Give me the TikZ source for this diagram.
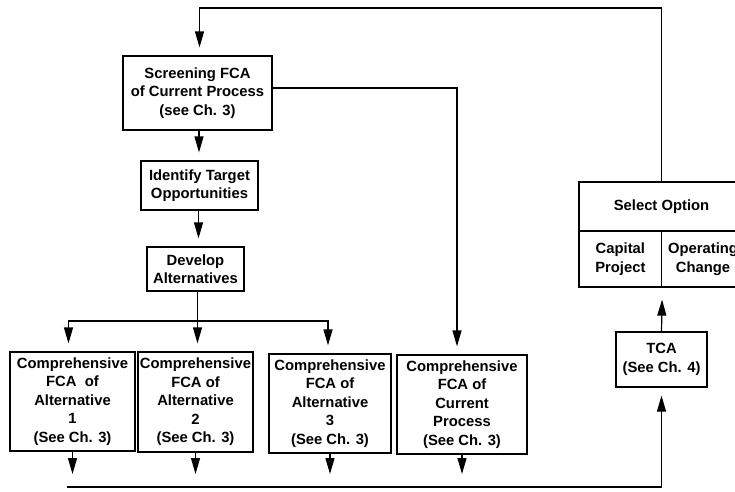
\documentclass[tikz,border=0pt]{standalone}
\usepackage{fontspec}
\setmainfont{Liberation Sans}
\usetikzlibrary{arrows.meta,positioning,calc}

\begin{document}
\begin{tikzpicture}[
  x=1pt, y=-1pt,
  box/.style={rectangle, draw, line width=1.2pt, align=center, inner sep=2pt,
    font=\fontsize{14.8}{18.5}\selectfont\bfseries},
  arr/.style={line width=1.2pt, -{Triangle[length=16pt,width=9pt]}, shorten >=8pt},
  wire/.style={line width=1.2pt}
]
  \useasboundingbox (0,0) rectangle (735,491);
  \clip (0,0) rectangle (735,491);
  % Screening and targets
  \node[box, minimum width=149pt, minimum height=74pt] (screen) at (197.5,93) {Screening FCA\\of Current Process\\(see Ch. 3)};
  \node[box, minimum width=117pt, minimum height=49pt] (identify) at (199.5,185.5) {Identify Target\\Opportunities};
  \node[box, minimum width=97pt, minimum height=44pt] (develop) at (195.5,269) {Develop\\Alternatives};
  % Comprehensive FCA row
  \node[box, minimum width=125pt, minimum height=99pt] (alt1) at (72.5,401.5) {Comprehensive\\FCA\ \ of\\Alternative\\1\\(See Ch. 3)};
  \node[box, minimum width=114pt, minimum height=100pt] (alt2) at (195.5,402) {Comprehensive\\FCA of\\Alternative\\2\\(See Ch. 3)};
  \node[box, minimum width=122pt, minimum height=99pt] (alt3) at (330,403.5) {Comprehensive\\FCA of\\Alternative\\3\\(See Ch. 3)};
  \node[box, minimum width=130pt, minimum height=99pt] (cur) at (462,404.5) {Comprehensive\\FCA of\\Current\\Process\\(See Ch. 3)};
  % TCA and option choice
  \node[box, minimum width=91pt, minimum height=55pt] (tca) at (661.5,359.5) {TCA\\(See Ch. 4)};
  \node[box, minimum width=165pt, minimum height=49pt] (selhead) at (661.5,206.5) {Select Option};
  \node[box, minimum width=82.7pt, minimum height=56pt] (capital) at (620.35,259) {Capital\\Project};
  \node[box, minimum width=82.7pt, minimum height=56pt] (operating) at (703.05,259) {Operating\\Change};
  % Rails
  \coordinate (toprail) at (400,8);
  \coordinate (branch) at (197.5,321);
  \coordinate (outlet) at (0,474);
  \coordinate (rail) at (67,487);
  % Connectors
  \draw[arr] (selhead.north) |- (toprail) -| ([xshift=2pt]screen.north);
  \draw[arr] ([yshift=5pt]screen.east) -| ([xshift=-5pt]cur.north);
  \draw[arr] ([xshift=1.5pt]screen.south) -- ([xshift=1.5pt]screen.south |- identify.north);
  \draw[arr] ([xshift=-1pt]identify.south) -- ([xshift=-1pt]identify.south |- develop.north);
  \draw[arr] (branch |- develop.south) -- (branch |- alt2.north);
  \draw[arr] (branch) -| ([xshift=-4pt]alt1.north);
  \draw[arr] (branch) -| ([xshift=-2pt]alt3.north);
  \foreach \n in {alt1,alt2,alt3,cur}
    \draw[arr, shorten >=0pt] (\n.south) -- (\n.south |- outlet);
  \draw[arr] (rail) -| (tca.south);
  \draw[arr, shorten >=12pt] (tca.north) -- (capital.south east);
\end{tikzpicture}
\end{document}
